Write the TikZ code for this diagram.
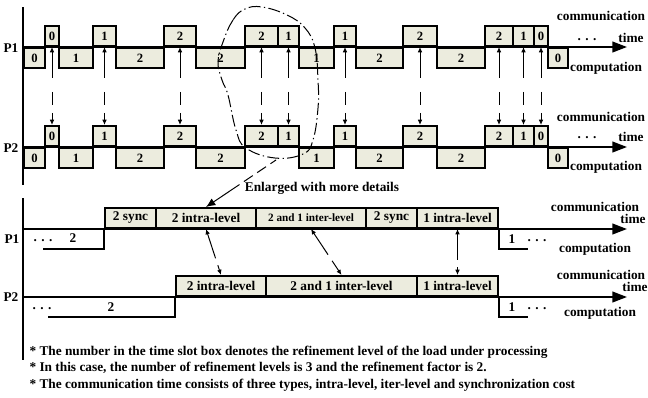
\documentclass[tikz,border=0pt]{standalone}
\usepackage{fontspec}
\setmainfont{Liberation Serif}
\usetikzlibrary{arrows.meta}
\tikzset{every picture/.style={line width=0.75pt}}
\definecolor{slotfill}{RGB}{236,236,222}
\tikzset{
  slot/.style={draw, line width=1.5pt, fill=slotfill, minimum height=15pt, inner sep=0pt, font=\fontsize{9.5}{11}\selectfont\bfseries},
  lowslot/.style={slot, anchor=south west, font=\fontsize{10}{12}\selectfont\bfseries},
  axis/.style={line width=1.5pt, -{Triangle[length=11pt,width=8pt]}},
  level/.style={line width=1.5pt},
  link/.style={{Latex[length=4pt,width=3.5pt]}-{Latex[length=4pt,width=3.5pt]}, dash pattern=on 19.5pt off 10.5pt on 9.75pt off 6pt on 30pt off 0pt},
  lowlink/.style={{Latex[length=4pt,width=3.5pt]}-{Latex[length=4pt,width=3.5pt]}, dash pattern=on 19.5pt off 5.5pt on 40pt off 0pt},
  enlarge/.style={-{Latex[length=7pt,width=6pt]}, dash pattern=on 5pt off 4pt on 8pt off 4pt on 8pt off 4pt on 60pt off 0pt},
  lbl/.style={inner sep=0.75pt, font=\fontsize{10}{12}\selectfont\bfseries},
  note/.style={anchor=west, inner sep=0.75pt, font=\fontsize{10}{12}\selectfont\bfseries}
}
\begin{document}
\begin{tikzpicture}[x=0.75pt,y=0.75pt,yscale=-1,xscale=1]
\useasboundingbox (0,0) rectangle (648,397);

%Shape: Time slots of P1 and P2 (upper part)
\foreach \xa/\xb/\side/\lev [count=\i] in {23/44/north west/0,44/58/south west/0,58/92/north west/1,92/115/south west/1,115/163/north west/2,163/195/south west/2,195/244/north west/2,244/277/south west/2,277/298/south west/1,298/333/north west/1,333/355/south west/1,355/402/north west/2,402/436/south west/2,436/484/north west/2,484/512/south west/2,512/533/south west/1,533/547/south west/0,547/567/north west/0}{
  \pgfmathsetmacro{\w}{(\xb-\xa)*0.75}
  \node[slot, anchor=\side, minimum width=\w pt] (a\i) at (\xa,47) {\lev};
  \node[slot, anchor=\side, minimum width=\w pt] (b\i) at (\xa,147) {\lev};
}

%Straight Lines: axes of the upper part
\draw[level] (23,7) -- (23,185);
\draw[axis] (23,47) -- (627,47);
\draw[axis] (23,147) -- (627,147);

%Straight Lines: messages between P1 and P2
\foreach \i in {2,4,6,8,9,11,13,15,16,17}
  \draw[link] (a\i.south) -- (b\i.north);

%Shape: Closed Curve
\draw[dash pattern=on 9pt off 2.5pt on 1pt off 2.5pt] plot[smooth cycle, tension=0.7] coordinates {(245,9) (233,20) (223,42) (218,62) (222,80) (228,95) (236,130) (246,148) (275,158) (303,154) (313,140) (318,108) (318,80) (315,48) (305,28) (287,15) (262,7)};

% Text Node
\node[lbl] (p1up) at (11,48) {P1};
\node[lbl] (p2up) at (11,148) {P2};
\node[lbl] (comm1) at (601,16) {communication};
\node[lbl] (time1) at (631,38) {time};
\node[lbl] (dots1) at (587,40) {. . .};
\node[lbl] (comp1) at (606,68) {computation};
\node[lbl] (comm2) at (601,117) {communication};
\node[lbl] (time2) at (631,137) {time};
\node[lbl] (dots2) at (587,138) {. . .};
\node[lbl] (comp2) at (606,167) {computation};

%Shape: Time slots of P1 and P2 (lower part)
\node[lowslot, minimum width=38.25pt] (c1-1) at (104,229) {2 sync};
\node[lowslot, minimum width=75pt] (c1-2) at (155,229) {2 intra-level};
\node[lowslot, minimum width=82.5pt, font=\fontsize{8.4}{10}\selectfont\bfseries] (c1-3) at (255,229) {2 and 1 inter-level};
\node[lowslot, minimum width=38.25pt] (c1-4) at (365,229) {2 sync};
\node[lowslot, minimum width=60.75pt] (c1-5) at (416,229) {1 intra-level};
\node[lowslot, minimum width=67.5pt] (c2-1) at (175,297) {2 intra-level};
\node[lowslot, minimum width=113.25pt] (c2-2) at (265,297) {2 and 1 inter-level};
\node[lowslot, minimum width=60.75pt] (c2-3) at (416,297) {1 intra-level};

%Straight Lines: axes and computation of the lower part
\draw[level] (23,198) -- (23,360);
\draw[axis] (23,229) -- (627,229);
\draw[axis] (23,297) -- (627,297);
\draw[level] (43,249) -| (c1-1.south west);
\draw[level] (c1-5.south east) |- (528,249);
\draw[level] (48,317) -| (c2-1.south west);
\draw[level] (c2-3.south east) |- (528,317);

%Straight Lines: messages of the lower part
\draw[lowlink] (c1-2.south) -- (c2-1.north);
\draw[lowlink] (c1-3.south) -- (c2-2.north);
\draw[lowlink] (c1-5.south) -- (c2-3.north);

%Straight Lines: enlarged
\coordinate (zoomfrom) at (276,160);
\draw[enlarge] (zoomfrom) -- (c1-2.north);

% Text Node
\node[lbl] (enl) at (322,188) {Enlarged with more details};
\node[lbl] (p1low) at (12,239) {P1};
\node[lbl] (p2low) at (11,297) {P2};
\node[lbl] (dots3) at (43,241) {. . .};
\node[lbl] (lev3) at (73,238) {2};
\node[lbl] (lev4) at (512,239) {1};
\node[lbl] (dots4) at (537,241) {. . .};
\node[lbl] (comm3) at (595,207) {communication};
\node[lbl] (time3) at (633,219) {time};
\node[lbl] (comp3) at (595,249) {computation};
\node[lbl] (dots5) at (42,309) {. . .};
\node[lbl] (lev5) at (111,307) {2};
\node[lbl] (lev6) at (512,307) {1};
\node[lbl] (dots6) at (537,309) {. . .};
\node[lbl] (comm4) at (601,275) {communication};
\node[lbl] (time4) at (635,287) {time};
\node[lbl] (comp4) at (600,313) {computation};

% Text Node: notes
\node[note] (note1) at (28,352) {* The number in the time slot box denotes the refinement level of the load under processing};
\node[note] (note2) at (28,368) {* In this case, the number of refinement levels is 3 and the refinement factor is 2.};
\node[note] (note3) at (28,385) {* The communication time consists of three types, intra-level, iter-level and synchronization cost};

\end{tikzpicture}
\end{document}
